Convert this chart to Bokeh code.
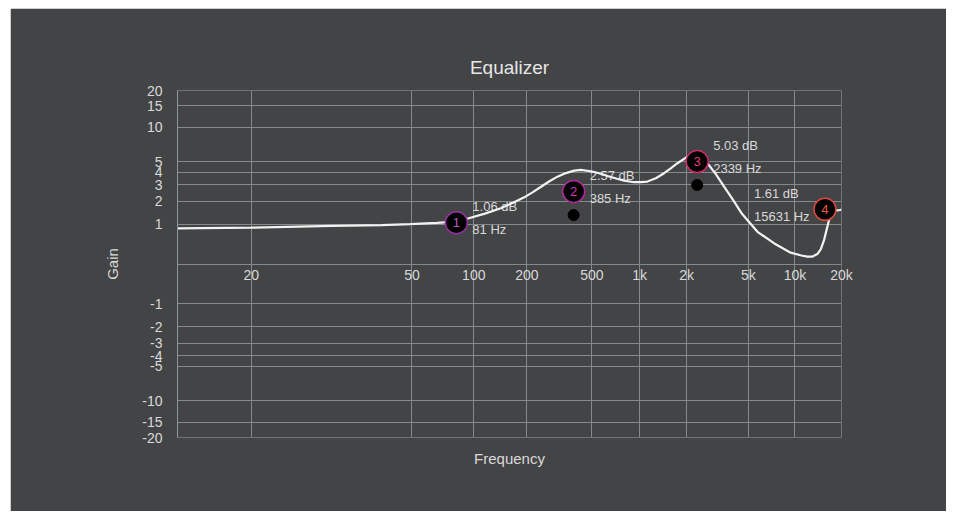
import numpy as np
from bokeh.plotting import figure
from bokeh.models import (Range1d, FixedTicker, CustomJSTickFormatter, Title,
                          ColumnDataSource)
from bokeh.core.properties import value
from bokeh.embed import file_html
from bokeh.resources import INLINE

# ---------------- data ----------------
band_freq = [81, 385, 2339, 15631]
band_gain = [1.06, 2.57, 5.03, 1.61]
band_num = ["1", "2", "3", "4"]

handle_freq = [385, 2339]
handle_gain = [1.36, 3.0]

resp_freq = [18, 20, 27, 38, 49, 65, 81, 93, 115, 141, 165, 193, 215, 242, 272, 306,
             345, 388, 426, 492, 555, 627, 710, 797, 923, 1020, 1123, 1270, 1435,
             1590, 1747, 2026, 2292, 2500, 2727, 3100, 3486, 4000, 4517, 5723,
             7310, 9380, 11000, 12020, 13000, 13960, 14700, 15420, 16620, 17460,
             18500, 19550, 20000]
resp_gain = [0.87, 0.89, 0.95, 0.98, 1.01, 1.06, 1.10, 1.22, 1.42, 1.66, 1.92, 2.22,
             2.50, 2.86, 3.25, 3.63, 3.93, 4.15, 4.21, 4.09, 3.92, 3.69, 3.48, 3.32,
             3.20, 3.20, 3.25, 3.50, 3.92, 4.38, 4.86, 5.58, 6.03, 5.60, 4.86, 3.80,
             2.89, 2.05, 1.44, 0.76, 0.44, 0.22, 0.16, 0.137, 0.14, 0.19, 0.30, 0.52,
             1.17, 1.51, 1.56, 1.58, 1.60]

y_tick_vals = [20, 15, 10, 5, 4, 3, 2, 1, 0, -1, -2, -3, -4, -5, -10, -15, -20]
y_tick_text = ["20", "15", "10", "5", "4", "3", "2", "1", "", "-1", "-2", "-3",
               "-4", "-5", "-10", "-15", "-20"]
x_tick_vals = [20, 50, 100, 200, 500, 1000, 2000, 5000, 10000, 20000]
x_tick_text = ["20", "50", "100", "200", "500", "1k", "2k", "5k", "10k", "20k"]

F_MIN, F_MAX, G_MAX = 18, 20000, 20
F_OFF = 17


# axis transforms of the equalizer chart (offset-log frequency, symmetric-log gain)
def sx(f):
    return np.log10(np.asarray(f, dtype=float) - F_OFF)


def sy(g):
    g = np.asarray(g, dtype=float)
    return np.sign(g) * np.log10(1 + np.abs(g))


BG = "#434446"
GRID = "#838b8a"
TXT = "#d9d9d9"
FONT = "Liberation Sans"
ring_colors = ["#9a2fa6", "#b02a9c", "#cf2a66", "#d9483a"]
num_colors = ["#b65cc2", "#c93ab8", "#e23a78", "#ec5a44"]

W, H = 936, 503
B_LEFT, B_RIGHT, B_TOP, B_BOTTOM = 167, 105, 82, 74
FRAME_H = H - B_TOP - B_BOTTOM

p = figure(width=W, height=H, output_backend="svg", toolbar_location=None,
           x_range=Range1d(float(sx(F_MIN)), float(sx(F_MAX))),
           y_range=Range1d(float(-sy(G_MAX)), float(sy(G_MAX))),
           min_border_left=B_LEFT, min_border_right=B_RIGHT, min_border_top=B_TOP,
           min_border_bottom=B_BOTTOM, background_fill_color=BG,
           border_fill_color=BG, outline_line_color=None)
p.margin = (8, 8, 8, 10)

p.title.text = "Equalizer"
p.title.align = "center"
p.title.text_font = FONT
p.title.text_font_size = "19px"
p.title.text_font_style = "normal"
p.title.text_color = "#e6e6e6"
p.title.standoff = 26

fmt_code = """
let best = 0, bd = 1e9;
for (let i = 0; i < tv.length; i++) {
  const d = Math.abs(tv[i] - tick);
  if (d < bd) { bd = d; best = i; }
}
return labs[best];
"""

xt = [float(v) for v in sx(x_tick_vals)]
yt = [float(v) for v in sy(y_tick_vals)]

# x axis: its labels are lifted up to sit just under the zero-gain line
xa = p.xaxis[0]
xa.ticker = FixedTicker(ticks=xt)
xa.formatter = CustomJSTickFormatter(args=dict(tv=xt, labs=x_tick_text), code=fmt_code)
xa.axis_line_color = None
xa.major_tick_line_color = None
xa.minor_tick_line_color = None
xa.major_tick_out = 0
xa.major_tick_in = 0
xa.major_label_standoff = -int(round(FRAME_H / 2)) + 3
xa.major_label_text_font = FONT
xa.major_label_text_font_size = "14px"
xa.major_label_text_color = TXT

ya = p.yaxis[0]
ya.ticker = FixedTicker(ticks=yt)
ya.formatter = CustomJSTickFormatter(args=dict(tv=yt, labs=y_tick_text), code=fmt_code)
ya.axis_line_color = "#8a9896"
ya.major_tick_line_color = None
ya.minor_tick_line_color = None
ya.major_tick_out = 0
ya.major_tick_in = 0
ya.major_label_standoff = 15
ya.major_label_text_font = FONT
ya.major_label_text_font_size = "14px"
ya.major_label_text_color = TXT
ya.axis_label = "Gain"
ya.axis_label_text_font = FONT
ya.axis_label_text_font_size = "15px"
ya.axis_label_text_font_style = "normal"
ya.axis_label_text_color = TXT
ya.axis_label_standoff = 18

p.xgrid.grid_line_color = GRID
p.ygrid.grid_line_color = GRID

p.add_layout(Title(text="Frequency", align="center", text_font=FONT,
                   text_font_size="15px", text_font_style="normal",
                   text_color=TXT, standoff=20), "below")

# annotations
band_src = ColumnDataSource(dict(
    x=sx(band_freq), y=sy(band_gain),
    db=[f"{g:.2f} dB" for g in band_gain],
    hz=[f"{f} Hz" for f in band_freq],
    num=band_num,
    ring=ring_colors, numc=num_colors,
    dx=[16 if f < 10000 else -71 for f in band_freq],
))
p.text(x="x", y="y", text="db", source=band_src, x_offset="dx", y_offset=-16,
       text_baseline="middle", text_align="left", text_font=value(FONT),
       text_font_size="13px", text_color=TXT)
p.text(x="x", y="y", text="hz", source=band_src, x_offset="dx", y_offset=7,
       text_baseline="middle", text_align="left", text_font=value(FONT),
       text_font_size="13px", text_color=TXT)

# response curve
p.line(sx(resp_freq), sy(resp_gain), line_color="#f2f2f2", line_width=2.2)

# handles
p.scatter(sx(handle_freq), sy(handle_gain), size=11, fill_color="black",
          line_color="black")

# band markers
p.scatter(x="x", y="y", source=band_src, size=22, fill_color="black",
          line_color="ring", line_width=1.5)
p.text(x="x", y="y", text="num", source=band_src, text_align="center",
       text_baseline="middle", text_font=value(FONT), text_font_size="13px",
       text_color="numc")

open("out.html", "w").write(file_html(p, INLINE))
